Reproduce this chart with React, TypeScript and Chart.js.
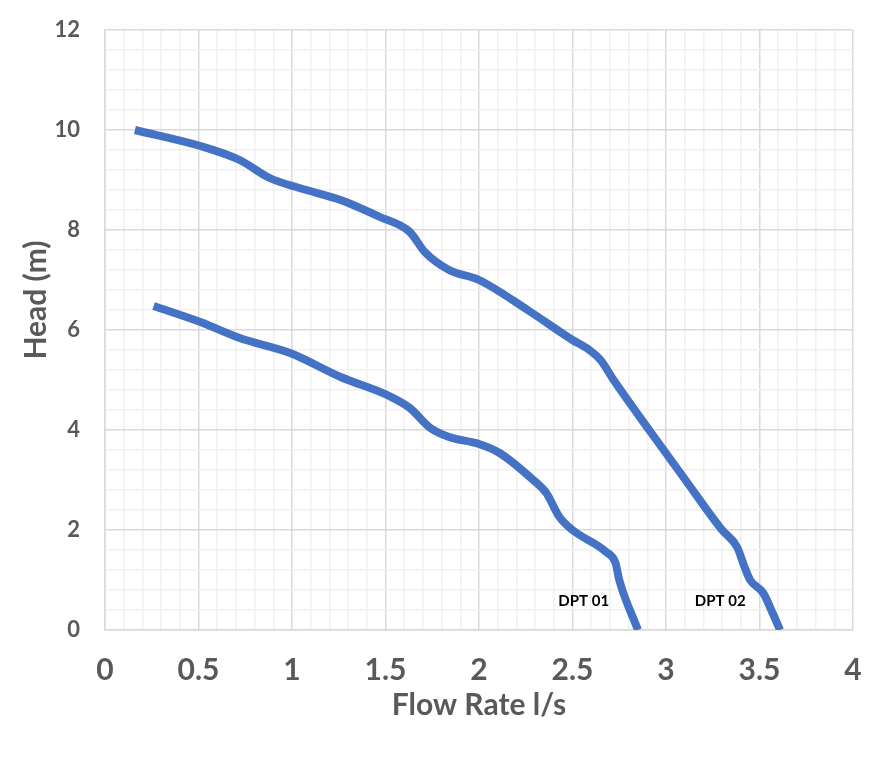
import React, { useEffect, useRef } from "react";
import { Chart, registerables, Plugin } from "chart.js";

Chart.register(...registerables);

// pump curves (flow l/s, head m)
const dpt01Flow = [0.26, 0.51, 0.72, 0.99, 1.26, 1.52, 1.63, 1.74, 1.84, 2.0, 2.11, 2.29, 2.36, 2.43, 2.5, 2.68, 2.73, 2.75, 2.85];
const dpt01Head = [6.48, 6.16, 5.84, 5.54, 5.06, 4.68, 4.44, 4.04, 3.86, 3.72, 3.54, 3.0, 2.74, 2.26, 2.0, 1.56, 1.34, 1.0, 0];

const dpt02Flow = [0.16, 0.51, 0.72, 0.88, 1.04, 1.26, 1.47, 1.63, 1.71, 1.84, 2.0, 2.26, 2.5, 2.59, 2.65, 2.72, 2.91, 3.1, 3.3, 3.38, 3.42, 3.45, 3.52, 3.57, 3.61];
const dpt02Head = [10.0, 9.68, 9.4, 9.04, 8.84, 8.6, 8.26, 7.96, 7.56, 7.2, 7.0, 6.4, 5.8, 5.6, 5.4, 5.0, 4.0, 3.02, 2.0, 1.66, 1.26, 1.0, 0.74, 0.34, 0];

const curveNames = ["DPT 01", "DPT 02"];
const curveLabelFlow = [2.56, 3.29];
const curveLabelHead = [0.58, 0.58];

const xTitle = "Flow Rate l/s";
const yTitle = "Head (m)";

const FONT = "Lato, 'Open Sans', sans-serif";
const GREY = "#595959";
const BLUE = "#4472C4";

const isMultiple = (v: number, step: number) => Math.abs(v / step - Math.round(v / step)) < 1e-6;

const toPoints = (xs: number[], ys: number[]) => xs.map((x, i) => ({ x, y: ys[i] }));

const extraText: Plugin = {
  id: "extraText",
  afterDraw(chart) {
    const { ctx, chartArea, scales } = chart;
    ctx.save();
    // y axis title
    ctx.fillStyle = GREY;
    ctx.font = `bold 30px ${FONT}`;
    ctx.textAlign = "center";
    ctx.textBaseline = "middle";
    ctx.translate(chartArea.left - 69, (chartArea.top + chartArea.bottom) / 2 - 30);
    ctx.rotate(-Math.PI / 2);
    ctx.fillText(yTitle, 0, 0);
    ctx.restore();

    // curve labels
    ctx.save();
    ctx.fillStyle = "#000000";
    ctx.font = `bold 15px ${FONT}`;
    ctx.textAlign = "center";
    ctx.textBaseline = "middle";
    curveNames.forEach((name, i) => {
      ctx.fillText(name, scales.x.getPixelForValue(curveLabelFlow[i]), scales.y.getPixelForValue(curveLabelHead[i]));
    });
    ctx.restore();
  },
};

const lineStyle = {
  borderColor: BLUE,
  borderWidth: 8,
  pointRadius: 0,
  cubicInterpolationMode: "monotone" as const,
  fill: false,
  borderCapStyle: "butt" as const,
};

export default function App() {
  const chartRef = useRef<HTMLCanvasElement | null>(null);

  useEffect(() => {
    document.body.style.margin = "0";
    let chartInstance: Chart | null = null;
    if (chartRef.current) {
      chartInstance = new Chart(chartRef.current, {
        type: "line",
        data: {
          datasets: [
            { label: curveNames[0], data: toPoints(dpt01Flow, dpt01Head), ...lineStyle },
            { label: curveNames[1], data: toPoints(dpt02Flow, dpt02Head), ...lineStyle },
          ],
        },
        options: {
          animation: false,
          responsive: true,
          maintainAspectRatio: false,
          layout: { padding: { left: 0, top: 30, right: 23, bottom: 0 } },
          plugins: {
            legend: { display: false },
            tooltip: { enabled: false },
          },
          scales: {
            x: {
              type: "linear",
              min: 0,
              max: 4,
              afterFit: (scale) => {
                scale.height = 138;
                scale.paddingLeft = 0;
                scale.paddingRight = 0;
              },
              border: { color: "#d9d9d9", width: 1.5 },
              grid: {
                drawTicks: false,
                lineWidth: 1.5,
                color: (c) => (isMultiple(c.tick.value, 0.5) ? "#d9d9d9" : "#f0f0f0"),
              },
              ticks: {
                stepSize: 0.1,
                autoSkip: false,
                maxRotation: 0,
                padding: 22,
                color: GREY,
                font: { family: FONT, size: 30, weight: "bold" },
                callback: (v) => (isMultiple(Number(v), 0.5) ? String(Math.round(Number(v) * 10) / 10) : ""),
              },
              title: {
                display: true,
                text: xTitle,
                color: GREY,
                font: { family: FONT, size: 30, weight: "bold" },
                padding: { top: 0, bottom: 45 },
              },
            },
            y: {
              type: "linear",
              min: 0,
              max: 12,
              afterFit: (scale) => {
                scale.width = 105;
                scale.paddingTop = 0;
                scale.paddingBottom = 0;
              },
              border: { color: "#d9d9d9", width: 1.5 },
              grid: {
                drawTicks: false,
                lineWidth: 1.5,
                color: (c) => (isMultiple(c.tick.value, 2) ? "#d9d9d9" : "#f0f0f0"),
              },
              ticks: {
                stepSize: 0.4,
                autoSkip: false,
                padding: 25,
                color: GREY,
                font: { family: FONT, size: 22, weight: "bold" },
                callback: (v) => (isMultiple(Number(v), 2) ? String(Math.round(Number(v))) : ""),
              },
            },
          },
        },
        plugins: [extraText],
      });
    }
    return () => {
      if (chartInstance) {
        chartInstance.destroy();
      }
    };
  }, []);

  return (
    <div style={{ position: "relative", width: 876, height: 768 }}>
      <canvas ref={chartRef} />
    </div>
  );
}
